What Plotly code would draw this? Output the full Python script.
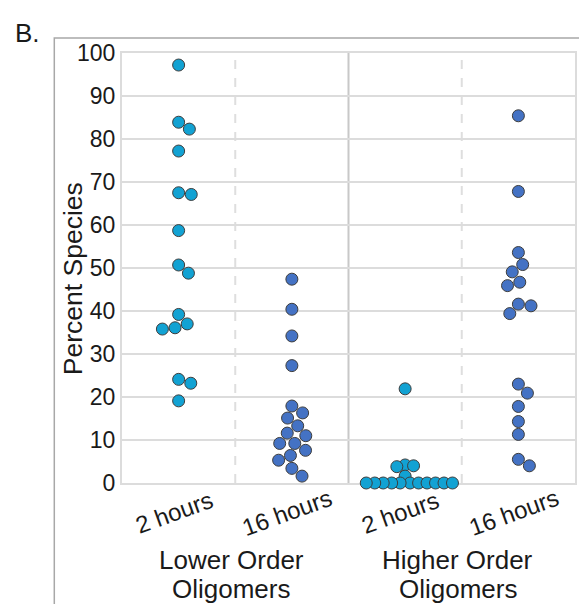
import math
import plotly.graph_objects as go

# ---------------- data ----------------
group_labels = [["Lower Order", "Oligomers"], ["Higher Order", "Oligomers"]]
categories = ["2 hours", "16 hours", "2 hours", "16 hours"]

lower_2h = [97.2, 83.9, 82.3, 77.2, 67.5, 67.1, 58.7, 50.7, 48.8, 39.2,
            37.0, 36.1, 35.8, 24.1, 23.2, 19.1]
lower_16h = [47.4, 40.4, 34.2, 27.3, 17.9, 16.3, 15.1, 13.3, 11.6, 11.0,
             9.2, 9.2, 7.6, 6.4, 5.3, 3.4, 1.6]
higher_2h = [21.9, 4.2, 4.0, 3.8, 1.6, 0, 0, 0, 0, 0, 0, 0, 0, 0, 0, 0]
higher_16h = [85.4, 67.8, 53.6, 50.8, 49.1, 46.7, 45.9, 41.6, 41.2, 39.4,
              23.0, 20.9, 17.8, 14.3, 11.3, 5.5, 4.0]

series = [lower_2h, lower_16h, higher_2h, higher_16h]
y_ticks = list(range(0, 101, 10))

# ---------------- styling ----------------
# page body has an 8px margin, so the figure starts at (8, 8) on screen
OFF = 8
W, H = 587 - OFF, 604 - OFF
ML, MR, MT, MB = 122 - OFF, 10, 53 - OFF, 121
colors = ["#12A2D3", "#4472C4", "#12A2D3", "#4472C4"]
FONT = "Liberation Sans, Arial, sans-serif"
MARKER = 12

plot_w = W - ML - MR
plot_h = H - MT - MB
px_per_x = plot_w / len(categories)
px_per_y = plot_h / (y_ticks[-1] - y_ticks[0])


def beeswarm(vals, d, max_half):
    order = sorted(range(len(vals)), key=lambda i: -vals[i])
    while True:
        placed = {}
        for i in order:
            y = vals[i] * px_per_y
            cands = [0.0]
            for (xj, yj) in placed.values():
                dy = abs(y - yj)
                if dy < d:
                    dx = math.sqrt(d * d - dy * dy)
                    cands += [xj + dx, xj - dx]
            cands.sort(key=lambda c: (round(abs(c), 6), -c))
            for c in cands:
                if all((c - xj) ** 2 + (y - yj) ** 2 >= d * d - 1e-6
                       for (xj, yj) in placed.values()):
                    placed[i] = (c, y)
                    break
        xs = [placed[i][0] for i in range(len(vals))]
        if max(abs(x) for x in xs) <= max_half or d < 5:
            return xs
        d *= 0.96


def sx(x):  # screen x -> paper
    return (x - (ML + OFF)) / plot_w


def sy(y):  # screen y -> paper
    return ((MT + OFF + plot_h) - y) / plot_h


fig = go.Figure()
for k, vals in enumerate(series):
    offs = beeswarm(vals, 12.8, 0.42 * px_per_x)
    xs = [k + o / px_per_x for o in offs]
    fig.add_trace(go.Scatter(
        x=xs, y=vals, mode="markers", cliponaxis=False, showlegend=False,
        marker=dict(size=MARKER, color=colors[k],
                    line=dict(color="#3d3d3d", width=1)),
    ))

shapes = []
# category separators
for i in range(len(categories) - 1):
    solid = (i + 1) % 2 == 0
    shapes.append(dict(type="line", xref="x", yref="paper", x0=i + 0.5, x1=i + 0.5,
                       y0=0, y1=1, layer="below",
                       line=dict(color="#c8c8c8" if solid else "#dedede",
                                 width=2, dash="solid" if solid else "dash")))
# outer frame (open at bottom)
shapes.append(dict(type="path", xref="paper", yref="paper",
                   path=f"M {sx(54)} {sy(620)} L {sx(54)} {sy(38)} L {sx(585)} {sy(38)} L {sx(585)} {sy(620)}",
                   line=dict(color="#a8a8a8", width=1.5)))

annotations = []
# rotated category tick labels
for i, c in enumerate(categories):
    annotations.append(dict(text=c, x=i, xref="x", xshift=-5, y=sy(512), yref="paper",
                            showarrow=False, textangle=-20, xanchor="center",
                            yanchor="middle",
                            font=dict(family=FONT, size=24, color="#1a1a1a")))
# group labels
for g, lines in enumerate(group_labels):
    xc = 2 * g + 0.5
    for li, t in enumerate(lines):
        annotations.append(dict(text=t, x=xc, xref="x", xshift=-4,
                                y=sy(560 + 29 * li), yref="paper",
                                showarrow=False, xanchor="center", yanchor="middle",
                                font=dict(family=FONT, size=26, color="#1a1a1a")))
# y axis title
annotations.append(dict(text="Percent Species", x=sx(73), xref="paper",
                        y=sy(279), yref="paper", showarrow=False, textangle=-90,
                        xanchor="center", yanchor="middle",
                        font=dict(family=FONT, size=26.5, color="#1a1a1a")))
# panel label
annotations.append(dict(text="B.", x=sx(13), xref="paper",
                        y=sy(33), yref="paper", showarrow=False,
                        xanchor="left", yanchor="middle",
                        font=dict(family=FONT, size=26, color="#1a1a1a")))

fig.update_layout(
    width=W, height=H, autosize=False,
    margin=dict(l=ML, r=MR, t=MT, b=MB),
    paper_bgcolor="white", plot_bgcolor="white",
    shapes=shapes, annotations=annotations,
    xaxis=dict(range=[-0.5, len(categories) - 0.5], showticklabels=False,
               showgrid=False, zeroline=False, showline=True, mirror=True,
               linecolor="#dcdcdc", linewidth=2, layer="below traces", ticks=""),
    yaxis=dict(range=[y_ticks[0], y_ticks[-1]], tickvals=y_ticks,
               showgrid=True, gridcolor="#dcdcdc", gridwidth=1.5,
               zeroline=False, showline=True, mirror=True,
               linecolor="#dcdcdc", linewidth=2, layer="below traces", ticks="",
               tickfont=dict(family=FONT, size=23, color="#1a1a1a")),
)

fig.write_html("out.html")
